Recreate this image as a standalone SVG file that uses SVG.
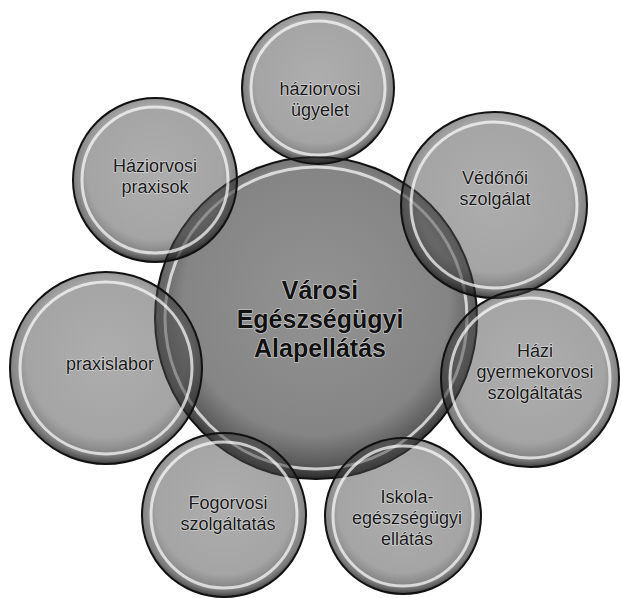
<svg xmlns="http://www.w3.org/2000/svg" width="622" height="598" viewBox="0 0 622 598">
<style>
.sat{fill:url(#gSat);stroke:#111;stroke-width:2}
.rim{fill:none;stroke:#fff;stroke-width:3;opacity:.7}
.ctr{fill:url(#gCtr);stroke:#111;stroke-width:2}
.t{font-family:"Liberation Sans",Arial,sans-serif;font-size:18px;fill:#161616;stroke:#e0e0e0;stroke-width:1.2;paint-order:stroke;text-anchor:middle}
.tc{font-family:"Liberation Sans",Arial,sans-serif;font-size:25px;font-weight:bold;fill:#111;stroke:#d8d8d8;stroke-width:1.2;paint-order:stroke;text-anchor:middle}
</style>
<defs>
<radialGradient id="gSat" cx="50%" cy="45%" r="55%">
<stop offset="0%" stop-color="#4a4a4a" stop-opacity=".45"/>
<stop offset="75%" stop-color="#4a4a4a" stop-opacity=".5"/>
<stop offset="92%" stop-color="#2a2a2a" stop-opacity=".6"/>
<stop offset="100%" stop-color="#111" stop-opacity=".8"/>
</radialGradient>
<radialGradient id="gCtr" cx="50%" cy="45%" r="55%">
<stop offset="0%" stop-color="#3a3a3a" stop-opacity=".55"/>
<stop offset="75%" stop-color="#3a3a3a" stop-opacity=".62"/>
<stop offset="92%" stop-color="#222" stop-opacity=".75"/>
<stop offset="100%" stop-color="#111" stop-opacity=".9"/>
</radialGradient>
</defs>
<rect width="622" height="598" fill="#fff"/>
<g id="connectors"></g>
<g id="n-center">
<circle class="ctr" cx="316" cy="318" r="161"/>
<circle class="rim" cx="316" cy="318" r="151" opacity=".45"/>
<text class="tc" x="320" y="299">Városi</text>
<text class="tc" x="320" y="328">Egészségügyi</text>
<text class="tc" x="320" y="357">Alapellátás</text>
</g>
<g id="n-haziorvosi-ugyelet">
<circle class="sat" cx="318" cy="88" r="76"/>
<circle class="rim" cx="318" cy="88" r="67"/>
<text class="t" x="320" y="95">háziorvosi</text>
<text class="t" x="320" y="116">ügyelet</text>
</g>
<g id="n-haziorvosi-praxisok">
<circle class="sat" cx="155" cy="180" r="82"/>
<circle class="rim" cx="155" cy="180" r="73"/>
<text class="t" x="155" y="172">Háziorvosi</text>
<text class="t" x="155" y="193">praxisok</text>
</g>
<g id="n-vedonoi">
<circle class="sat" cx="494" cy="205" r="93"/>
<circle class="rim" cx="494" cy="205" r="83"/>
<text class="t" x="495" y="184">Védőnői</text>
<text class="t" x="495" y="205">szolgálat</text>
</g>
<g id="n-praxislabor">
<circle class="sat" cx="106" cy="368" r="96"/>
<circle class="rim" cx="106" cy="368" r="86"/>
<text class="t" x="110" y="370">praxislabor</text>
</g>
<g id="n-hazi-gyermekorvosi">
<circle class="sat" cx="530" cy="378" r="89"/>
<circle class="rim" cx="530" cy="378" r="80"/>
<text class="t" x="535" y="357">Házi</text>
<text class="t" x="535" y="378">gyermekorvosi</text>
<text class="t" x="535" y="399">szolgáltatás</text>
</g>
<g id="n-fogorvosi">
<circle class="sat" cx="224" cy="515" r="82"/>
<circle class="rim" cx="224" cy="515" r="73"/>
<text class="t" x="228" y="509">Fogorvosi</text>
<text class="t" x="228" y="530">szolgáltatás</text>
</g>
<g id="n-iskola">
<circle class="sat" cx="403" cy="516" r="78"/>
<circle class="rim" cx="403" cy="516" r="70"/>
<text class="t" x="407" y="503">Iskola-</text>
<text class="t" x="407" y="524">egészségügyi</text>
<text class="t" x="407" y="545">ellátás</text>
</g>
</svg>
